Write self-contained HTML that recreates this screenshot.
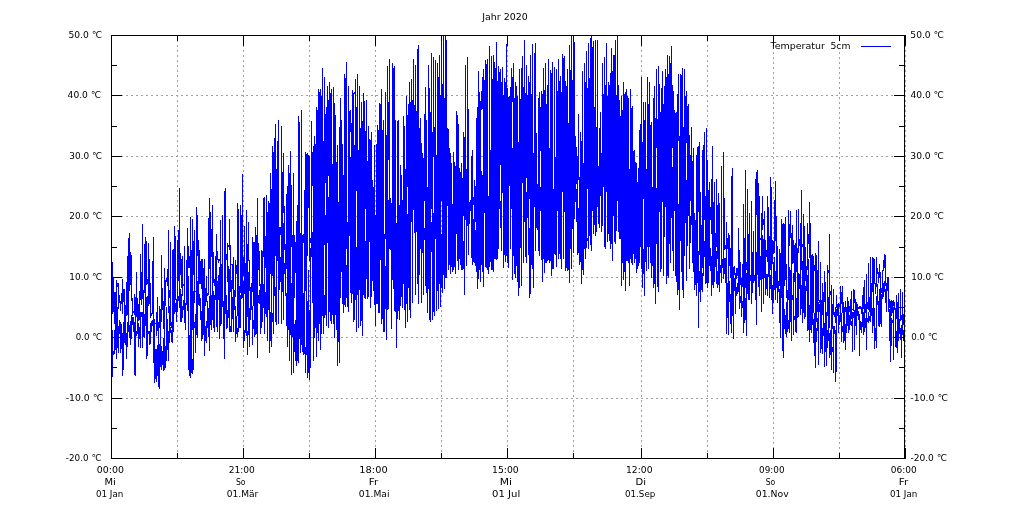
<!DOCTYPE html>
<html><head><meta charset="utf-8"><style>
html,body{margin:0;padding:0;background:#fff;width:1015px;height:507px;overflow:hidden}
svg{display:block}
text{font-family:"DejaVu Sans","Liberation Sans",sans-serif;font-size:9.3px;fill:#000}
</style></head><body>
<svg width="1015" height="507" viewBox="0 0 1015 507" shape-rendering="crispEdges">
<rect width="1015" height="507" fill="#fff"/>
<path d="M111 398.5H904M111 337.5H904M111 277.5H904M111 216.5H904M111 156.5H904M111 95.5H904M177.5 457V35M243.5 457V35M309.5 457V35M375.5 457V35M441.5 457V35M507.5 457V35M573.5 457V35M641.5 457V35M707.5 457V35M773.5 459V35M839.5 459V35M905.5 457V35" stroke="#a0a0a0" stroke-width="1" stroke-dasharray="2 3" fill="none"/>
<path d="M111.5 304V325M111.5 346V364M112.5 262V314M112.5 330V377M113.5 278V312M113.5 351V355M114.5 292V324M114.5 330V354M115.5 292V350M116.5 280V359M117.5 283V287M117.5 307V348M118.5 283V309M118.5 326V353M119.5 295V303M119.5 320V334M120.5 301V311M120.5 322V353M121.5 293V304M121.5 324V349M122.5 279V314M122.5 333V376M123.5 289V302M123.5 322V370M124.5 289V343M125.5 305V345M126.5 282V316M126.5 333V359M127.5 256V315M127.5 322V347M128.5 238V332M129.5 233V291M129.5 325V338M130.5 252V285M130.5 321V345M131.5 255V301M131.5 315V339M132.5 298V316M132.5 317V325M133.5 311V313M133.5 317V332M134.5 294V315M134.5 322V375M135.5 297V376M136.5 272V317M136.5 331V336M137.5 298V334M138.5 304V321M138.5 323V347M139.5 291V320M139.5 327V339M140.5 254V300M140.5 312V348M141.5 272V305M141.5 312V317M142.5 224V299M142.5 312V348M143.5 290V337M144.5 244V293M144.5 314V338M145.5 237V326M146.5 241V285M146.5 297V359M147.5 279V284M147.5 296V356M148.5 243V306M148.5 331V334M149.5 259V304M149.5 331V345M150.5 283V318M150.5 323V344M151.5 313V316M151.5 321V332M152.5 261V314M152.5 320V326M153.5 237V363M154.5 319V383M155.5 323V324M155.5 349V379M156.5 312V336M156.5 349V382M157.5 297V331M157.5 345V376M158.5 322V387M159.5 306V328M159.5 344V389M160.5 309V367M161.5 255V322M161.5 346V370M162.5 288V310M162.5 351V365M163.5 301V329M163.5 338V371M164.5 268V370M165.5 280V306M165.5 346V368M166.5 278V282M166.5 307V361M167.5 269V286M167.5 319V350M168.5 230V313M168.5 331V361M169.5 290V298M169.5 306V343M170.5 242V326M170.5 327V333M171.5 322V328M171.5 330V342M172.5 250V343M173.5 249V332M174.5 226V314M175.5 236V300M175.5 303V312M176.5 299V322M177.5 240V312M178.5 230V281M178.5 296V301M179.5 188V308M180.5 253V275M180.5 289V322M181.5 259V288M181.5 294V322M182.5 256V296M182.5 306V318M183.5 284V286M183.5 300V310M184.5 246V323M185.5 303V330M186.5 260V305M187.5 228V311M188.5 246V268M188.5 276V370M189.5 256V268M189.5 335V376M190.5 217V378M191.5 250V373M192.5 219V330M192.5 359V374M193.5 241V275M193.5 291V370M194.5 230V303M194.5 322V328M195.5 291V292M195.5 314V353M196.5 207V335M197.5 215V256M197.5 281V338M198.5 240V305M199.5 250V284M199.5 294V306M200.5 261V284M200.5 298V320M201.5 259V289M201.5 311V341M202.5 259V339M203.5 268V335M204.5 259V356M205.5 288V306M205.5 326V341M206.5 276V302M206.5 321V343M207.5 293V296M207.5 301V328M208.5 218V295M208.5 308V337M209.5 198V269M209.5 296V351M210.5 212V325M211.5 229V257M211.5 295V330M212.5 205V320M213.5 252V283M213.5 291V328M214.5 279V286M214.5 295V332M215.5 256V300M216.5 234V327M217.5 251V260M217.5 281V332M218.5 259V263M218.5 275V300M219.5 259V261M219.5 267V339M220.5 220V326M221.5 264V324M222.5 215V307M223.5 301V339M224.5 191V359M225.5 188V314M226.5 254V260M226.5 295V329M227.5 243V282M227.5 310V328M228.5 245V247M228.5 266V318M229.5 219V250M229.5 269V332M230.5 245V292M230.5 326V332M231.5 264V265M231.5 280V332M232.5 264V289M232.5 297V319M233.5 257V332M234.5 290V310M235.5 260V297M235.5 306V342M236.5 265V274M236.5 316V334M237.5 203V316M237.5 328V337M238.5 209V332M239.5 286V328M240.5 205V293M240.5 295V328M241.5 215V299M242.5 174V298M243.5 257V276M243.5 281V348M244.5 226V294M244.5 330V341M245.5 263V333M246.5 210V336M247.5 244V317M247.5 331V355M248.5 222V261M248.5 272V335M249.5 260V291M249.5 308V347M250.5 287V320M251.5 283V310M252.5 237V292M252.5 306V345M253.5 242V306M253.5 320V329M254.5 242V337M255.5 227V335M256.5 235V334M257.5 198V358M258.5 243V270M258.5 295V303M259.5 251V286M259.5 290V304M260.5 284V334M261.5 250V328M262.5 251V322M263.5 198V257M263.5 284V308M264.5 197V334M265.5 236V268M265.5 292V314M266.5 195V317M267.5 212V341M268.5 201V310M269.5 203V353M270.5 173V274M270.5 312V341M271.5 189V347M272.5 146V276M272.5 313V322M273.5 152V334M274.5 138V296M275.5 124V256M275.5 287V322M276.5 169V325M277.5 141V261M278.5 120V324M279.5 227V290M280.5 227V235M280.5 257V282M281.5 126V324M282.5 172V292M283.5 153V213M283.5 223V320M284.5 206V250M284.5 263V274M285.5 244V296M286.5 194V269M286.5 293V326M287.5 186V347M288.5 165V330M289.5 173V361M290.5 151V335M291.5 185V247M291.5 283V375M292.5 235V337M293.5 173V373M294.5 235V298M294.5 324V352M295.5 242V273M295.5 320V361M296.5 221V366M297.5 205V361M298.5 116V363M299.5 122V339M300.5 233V353M301.5 110V345M302.5 235V352M303.5 234V243M303.5 293V355M304.5 190V354M305.5 152V291M305.5 347V373M306.5 154V355M307.5 153V256M307.5 301V378M308.5 155V208M308.5 270V373M309.5 156V261M309.5 310V380M310.5 238V243M310.5 248V368M311.5 121V257M312.5 152V186M312.5 232V303M313.5 146V361M314.5 136V338M315.5 144V328M316.5 107V357M317.5 110V333M318.5 89V341M319.5 92V324M320.5 89V350M321.5 96V334M322.5 68V316M323.5 141V334M324.5 77V245M324.5 295V318M325.5 114V183M325.5 215V315M326.5 107V326M327.5 86V243M328.5 100V176M328.5 197V328M329.5 82V312M330.5 93V321M331.5 89V324M332.5 164V315M333.5 87V324M334.5 103V338M335.5 115V315M336.5 162V330M337.5 145V366M338.5 202V342M339.5 127V363M340.5 98V298M341.5 120V272M342.5 144V304M343.5 175V313M344.5 74V305M345.5 78V307M346.5 62V249M346.5 265V298M347.5 222V307M348.5 86V312M349.5 111V236M350.5 110V132M350.5 157V293M351.5 123V303M352.5 90V294M353.5 93V322M354.5 92V94M354.5 145V320M355.5 79V300M356.5 107V191M356.5 247V332M357.5 74V295M358.5 150V328M359.5 86V290M360.5 128V326M361.5 102V321M362.5 121V336M363.5 93V295M364.5 101V298M365.5 131V209M365.5 241V299M366.5 100V279M367.5 161V299M368.5 126V297M369.5 139V242M370.5 140V308M371.5 132V297M372.5 180V281M373.5 187V291M374.5 145V305M375.5 215V326M376.5 144V304M377.5 125V304M378.5 130V313M379.5 103V313M380.5 104V260M381.5 89V324M382.5 130V319M383.5 120V332M384.5 234V332M385.5 92V239M385.5 266V309M386.5 135V340M387.5 66V310M388.5 102V160M388.5 200V309M389.5 59V249M390.5 198V250M391.5 203V329M392.5 63V280M393.5 68V289M394.5 66V311M395.5 120V312M396.5 223V348M397.5 121V319M398.5 120V311M399.5 205V320M400.5 165V306M401.5 175V297M402.5 200V308M403.5 116V284M404.5 126V310M405.5 169V328M406.5 96V304M407.5 115V187M407.5 214V322M408.5 104V288M409.5 82V310M410.5 102V318M411.5 79V222M412.5 100V303M413.5 59V210M414.5 105V233M415.5 65V295M416.5 111V232M417.5 49V284M418.5 45V304M419.5 128V275M420.5 118V249M421.5 143V303M422.5 153V253M423.5 158V295M424.5 114V201M424.5 228V240M425.5 87V286M426.5 120V293M427.5 187V313M428.5 65V289M429.5 88V320M430.5 112V322M431.5 53V209M431.5 222V252M432.5 132V320M433.5 57V157M433.5 213V312M434.5 127V316M435.5 60V239M436.5 155V311M437.5 63V291M438.5 77V309M439.5 55V284M440.5 95V307M441.5 37V201M441.5 234V288M442.5 84V293M443.5 35V275M444.5 98V289M445.5 35V278M446.5 40V278M447.5 128V206M448.5 129V270M449.5 148V265M450.5 153V274M451.5 163V267M452.5 204V272M453.5 152V270M454.5 162V267M455.5 166V274M456.5 111V234M457.5 115V261M458.5 124V270M459.5 168V259M460.5 172V265M461.5 163V270M462.5 178V270M463.5 132V216M463.5 241V269M464.5 137V295M465.5 65V220M466.5 169V266M467.5 57V226M468.5 109V255M469.5 202V224M470.5 200V211M471.5 156V258M472.5 150V265M473.5 197V205M473.5 219V262M474.5 180V263M475.5 186V222M475.5 230V266M476.5 118V272M477.5 107V289M478.5 71V279M479.5 92V270M480.5 101V282M481.5 91V110M481.5 171V265M482.5 77V109M482.5 175V272M483.5 69V287M484.5 80V213M485.5 60V267M486.5 64V268M487.5 59V270M488.5 196V274M489.5 46V267M490.5 150V262M491.5 56V270M492.5 79V270M493.5 55V272M494.5 62V259M495.5 68V259M496.5 42V260M497.5 81V259M498.5 66V249M499.5 72V209M500.5 69V165M500.5 201V228M501.5 82V251M502.5 67V193M503.5 95V268M504.5 78V255M505.5 82V262M506.5 44V256M507.5 88V263M508.5 97V268M509.5 96V186M510.5 87V249M511.5 68V209M512.5 77V102M512.5 148V280M513.5 63V256M514.5 98V274M515.5 82V278M516.5 86V266M517.5 96V282M518.5 142V296M519.5 69V288M520.5 99V248M521.5 68V286M522.5 56V183M523.5 87V263M524.5 40V222M525.5 93V257M526.5 65V178M526.5 192V263M527.5 95V218M528.5 76V255M529.5 82V199M529.5 228V298M530.5 55V294M531.5 94V265M532.5 44V269M533.5 153V288M534.5 53V207M535.5 43V251M536.5 133V228M537.5 184V230M538.5 98V251M539.5 92V256M540.5 107V151M540.5 187V211M541.5 91V260M542.5 94V282M543.5 68V259M544.5 90V273M545.5 63V263M546.5 104V263M547.5 85V261M548.5 59V260M549.5 148V263M550.5 70V261M551.5 73V276M552.5 62V269M553.5 189V269M554.5 67V254M555.5 157V255M556.5 69V267M557.5 91V211M558.5 59V259M559.5 81V254M560.5 76V259M561.5 92V269M562.5 54V192M563.5 58V259M564.5 56V212M565.5 81V271M566.5 86V268M567.5 69V271M568.5 123V270M569.5 45V283M570.5 70V249M571.5 35V269M572.5 80V229M573.5 35V253M574.5 42V219M575.5 136V202M576.5 147V184M576.5 189V222M577.5 156V255M578.5 114V180M578.5 208V253M579.5 177V265M580.5 132V262M581.5 141V284M582.5 71V270M583.5 163V275M584.5 63V249M585.5 82V259M586.5 51V248M587.5 88V189M587.5 238V241M588.5 43V249M589.5 78V236M590.5 38V245M591.5 35V251M592.5 47V211M593.5 41V234M594.5 107V225M595.5 40V236M596.5 127V232M597.5 40V207M598.5 166V224M599.5 128V228M600.5 112V196M601.5 153V232M602.5 63V226M603.5 94V187M604.5 57V247M605.5 85V249M606.5 43V192M607.5 96V242M608.5 82V234M609.5 85V241M610.5 73V249M611.5 48V244M612.5 71V261M613.5 55V216M614.5 55V242M615.5 40V244M616.5 95V231M617.5 36V201M618.5 85V232M619.5 100V239M620.5 116V239M621.5 96V286M622.5 110V263M623.5 82V280M624.5 94V272M625.5 92V291M626.5 89V261M627.5 96V261M628.5 98V263M629.5 169V286M630.5 89V259M631.5 108V263M632.5 106V265M633.5 151V254M634.5 150V263M635.5 162V259M636.5 163V273M637.5 182V269M638.5 168V266M639.5 130V263M640.5 124V247M641.5 77V269M642.5 142V288M643.5 102V199M643.5 249V274M644.5 120V296M645.5 102V262M646.5 169V271M647.5 77V247M648.5 104V269M649.5 82V247M650.5 125V263M651.5 122V278M652.5 187V266M653.5 98V288M654.5 86V284M655.5 118V304M656.5 69V148M656.5 188V244M657.5 119V287M658.5 66V292M659.5 84V212M660.5 112V272M661.5 88V269M662.5 71V202M663.5 104V276M664.5 86V237M665.5 69V207M666.5 77V284M667.5 55V276M668.5 74V278M669.5 56V244M670.5 63V263M671.5 46V218M672.5 85V148M672.5 167V251M673.5 91V271M674.5 110V211M675.5 113V276M676.5 112V282M677.5 94V295M678.5 74V141M678.5 204V290M679.5 136V310M680.5 74V241M681.5 75V272M682.5 68V290M683.5 127V298M684.5 69V256M685.5 96V223M686.5 91V143M686.5 180V281M687.5 106V246M688.5 104V216M689.5 135V269M690.5 155V201M690.5 216V243M691.5 127V225M692.5 161V263M693.5 148V272M694.5 213V290M695.5 220V285M696.5 155V296M697.5 147V283M698.5 146V212M698.5 251V328M699.5 142V255M699.5 271V292M700.5 192V302M701.5 225V290M702.5 150V268M702.5 273V292M703.5 145V276M704.5 132V220M704.5 241V257M705.5 196V284M706.5 128V283M707.5 160V288M708.5 190V283M709.5 182V266M710.5 207V220M710.5 248V271M711.5 179V234M711.5 256V296M712.5 146V285M713.5 202V288M714.5 182V282M715.5 233V267M716.5 179V247M716.5 251V284M717.5 205V259M717.5 271V288M718.5 193V285M719.5 203V292M720.5 265V273M721.5 166V283M722.5 259V268M723.5 152V279M724.5 198V250M724.5 258V274M725.5 245V249M725.5 258V283M726.5 222V334M727.5 238V249M727.5 283V318M728.5 233V335M729.5 235V266M729.5 281V302M730.5 248V278M730.5 294V324M731.5 176V333M732.5 168V316M733.5 267V339M734.5 266V275M734.5 278V291M735.5 273V314M736.5 268V279M736.5 287V296M737.5 268V276M737.5 283V294M738.5 228V292M739.5 250V309M740.5 262V285M740.5 296V303M741.5 278V317M742.5 264V287M742.5 301V308M743.5 204V333M744.5 238V323M745.5 170V288M745.5 298V320M746.5 262V270M746.5 273V336M747.5 189V294M748.5 234V300M749.5 213V300M750.5 275V281M751.5 201V304M752.5 252V293M753.5 231V283M754.5 275V281M755.5 179V300M756.5 172V215M756.5 252V325M757.5 170V275M758.5 183V287M759.5 196V296M760.5 238V240M760.5 256V280M761.5 213V312M762.5 196V230M762.5 235V279M763.5 219V225M763.5 239V304M764.5 211V278M765.5 240V295M766.5 250V257M766.5 274V289M767.5 196V262M767.5 274V296M768.5 207V277M769.5 236V298M770.5 177V270M770.5 275V289M771.5 187V300M772.5 240V264M772.5 285V314M773.5 241V254M773.5 262V303M774.5 200V253M774.5 257V290M775.5 181V241M775.5 271V300M776.5 216V288M777.5 246V303M778.5 281V292M779.5 249V286M779.5 289V323M780.5 253V338M781.5 219V298M782.5 224V351M783.5 223V358M784.5 224V286M784.5 309V329M785.5 217V280M785.5 315V334M786.5 264V298M786.5 302V337M787.5 290V332M788.5 210V300M788.5 320V329M789.5 224V246M789.5 267V333M790.5 211V238M790.5 270V322M791.5 233V341M792.5 225V264M792.5 295V300M793.5 240V263M793.5 273V335M794.5 245V282M794.5 316V320M795.5 243V332M796.5 210V272M796.5 298V333M797.5 248V318M798.5 209V253M798.5 273V317M799.5 239V246M799.5 274V289M800.5 223V315M801.5 190V270M801.5 285V309M802.5 244V247M802.5 261V323M803.5 214V313M804.5 226V319M805.5 247V281M805.5 286V317M806.5 266V291M807.5 223V270M807.5 275V331M808.5 234V244M808.5 259V330M809.5 202V258M809.5 305V342M810.5 223V330M811.5 255V333M812.5 254V325M813.5 256V313M813.5 319V343M814.5 265V271M814.5 313V356M815.5 253V368M816.5 255V322M816.5 328V342M817.5 270V312M817.5 318V331M818.5 241V301M818.5 302V365M819.5 300V303M819.5 304V312M820.5 262V353M821.5 300V349M822.5 283V315M822.5 328V354M823.5 292V336M824.5 271V302M824.5 323V367M825.5 282V352M826.5 312V366M827.5 265V316M827.5 330V348M828.5 270V273M828.5 297V341M829.5 234V328M829.5 333V358M830.5 291V295M830.5 330V355M831.5 285V370M832.5 304V329M832.5 347V352M833.5 289V315M833.5 326V373M834.5 312V317M834.5 326V334M835.5 307V323M835.5 330V382M836.5 295V308M836.5 309V372M837.5 304V316M838.5 303V333M839.5 304V307M839.5 315V325M840.5 286V322M841.5 292V304M841.5 313V342M842.5 286V313M842.5 326V332M843.5 302V343M844.5 307V341M845.5 301V312M845.5 324V350M846.5 307V333M847.5 297V326M848.5 301V333M849.5 306V312M849.5 315V330M850.5 299V325M851.5 291V319M851.5 321V326M852.5 309V310M852.5 312V352M853.5 289V311M853.5 312V318M854.5 290V303M854.5 310V350M855.5 299V326M856.5 302V335M857.5 304V316M858.5 307V309M858.5 311V320M859.5 306V309M859.5 314V356M860.5 306V309M860.5 321V330M861.5 307V314M861.5 322V333M862.5 295V327M863.5 287V309M863.5 312V335M864.5 280V332M865.5 304V313M865.5 318V328M866.5 274V350M867.5 302V309M867.5 318V322M868.5 263V310M868.5 312V323M869.5 297V312M869.5 316V321M870.5 257V322M871.5 283V316M872.5 257V292M872.5 308V333M873.5 258V326M874.5 259V284M874.5 308V349M875.5 283V294M875.5 328V341M876.5 257V287M876.5 296V348M877.5 268V274M877.5 284V305M878.5 272V283M878.5 301V326M879.5 264V278M879.5 289V327M880.5 272V324M881.5 288V293M881.5 294V327M882.5 270V299M883.5 260V271M883.5 283V297M884.5 254V268M884.5 281V292M885.5 255V286M885.5 289V303M886.5 283V312M887.5 277V291M888.5 277V312M889.5 299V308M889.5 309V341M890.5 301V362M891.5 300V316M891.5 318V346M892.5 301V313M892.5 320V323M893.5 300V306M893.5 307V360M894.5 302V310M895.5 308V347M896.5 295V319M896.5 331V348M897.5 302V353M898.5 293V341M899.5 307V308M899.5 319V334M900.5 289V321M900.5 328V340M901.5 315V320M901.5 325V358M902.5 292V335M903.5 314V325M903.5 330V341M904.5 313V341" stroke="#00f" stroke-width="1" fill="none"/>
<rect x="764" y="36" width="140" height="14" fill="#fff"/>
<path d="M111 458.5h11M905 458.5h-11M111 428.5h6M905 428.5h-6M111 398.5h11M905 398.5h-11M111 367.5h6M905 367.5h-6M111 337.5h11M905 337.5h-11M111 307.5h6M905 307.5h-6M111 277.5h11M905 277.5h-11M111 247.5h6M905 247.5h-6M111 216.5h11M905 216.5h-11M111 186.5h6M905 186.5h-6M111 156.5h11M905 156.5h-11M111 126.5h6M905 126.5h-6M111 95.5h11M905 95.5h-11M111 65.5h6M905 65.5h-6M111 35.5h11M905 35.5h-11M111.5 459v-11M111.5 35v11M177.5 459v-6M177.5 35v6M243.5 459v-11M243.5 35v11M309.5 459v-6M309.5 35v6M375.5 459v-11M375.5 35v11M441.5 459v-6M441.5 35v6M507.5 459v-11M507.5 35v11M573.5 459v-6M573.5 35v6M641.5 459v-11M641.5 35v11M707.5 459v-6M707.5 35v6M773.5 459v-11M773.5 35v11M839.5 459v-6M839.5 35v6M905.5 459v-11M905.5 35v11" stroke="#000" stroke-width="1" fill="none"/>
<path d="M111.5 35V459M111 35.5H905M904.5 35V459M111 458.5H905" stroke="#000" stroke-width="1" fill="none"/>
<path d="M861 46.5H891" stroke="#00f" stroke-width="1"/>
<text x="65.7" y="461.0" textLength="35.63" lengthAdjust="spacingAndGlyphs">-20.0 ℃</text><text x="910.38" y="461.0" textLength="36.57" lengthAdjust="spacingAndGlyphs">-20.0 ℃</text><text x="65.68" y="401.0" textLength="37.49" lengthAdjust="spacingAndGlyphs">-10.0 ℃</text><text x="910.36" y="401.0" textLength="37.52" lengthAdjust="spacingAndGlyphs">-10.0 ℃</text><text x="75.8" y="340.0" textLength="26.2" lengthAdjust="spacingAndGlyphs">0.0 ℃</text><text x="911.3" y="340.0" textLength="26.2" lengthAdjust="spacingAndGlyphs">0.0 ℃</text><text x="69.34" y="280.0" textLength="32.64" lengthAdjust="spacingAndGlyphs">10.0 ℃</text><text x="911.24" y="280.0" textLength="32.64" lengthAdjust="spacingAndGlyphs">10.0 ℃</text><text x="69.34" y="219.0" textLength="32.64" lengthAdjust="spacingAndGlyphs">20.0 ℃</text><text x="910.32" y="219.0" textLength="33.58" lengthAdjust="spacingAndGlyphs">20.0 ℃</text><text x="69.34" y="159.0" textLength="32.64" lengthAdjust="spacingAndGlyphs">30.0 ℃</text><text x="910.32" y="159.0" textLength="33.58" lengthAdjust="spacingAndGlyphs">30.0 ℃</text><text x="67.58" y="98.0" textLength="33.51" lengthAdjust="spacingAndGlyphs">40.0 ℃</text><text x="910.38" y="98.0" textLength="33.51" lengthAdjust="spacingAndGlyphs">40.0 ℃</text><text x="68.42" y="38.0" textLength="33.58" lengthAdjust="spacingAndGlyphs">50.0 ℃</text><text x="910.32" y="38.0" textLength="33.58" lengthAdjust="spacingAndGlyphs">50.0 ℃</text><text x="96.8" y="473.0" textLength="27.21" lengthAdjust="spacingAndGlyphs">00:00</text><text x="104.53" y="485.0" textLength="11.32" lengthAdjust="spacingAndGlyphs">Mi</text><text x="96.0" y="497.0" textLength="27.32" lengthAdjust="spacingAndGlyphs">01 Jan</text><text x="228.7" y="473.0" textLength="26.18" lengthAdjust="spacingAndGlyphs">21:00</text><text x="235.9" y="485.0" textLength="9.59" lengthAdjust="spacingAndGlyphs">So</text><text x="226.8" y="497.0" textLength="31.52" lengthAdjust="spacingAndGlyphs">01.Mär</text><text x="359.34" y="473.0" textLength="28.3" lengthAdjust="spacingAndGlyphs">18:00</text><text x="368.77" y="485.0" textLength="9.47" lengthAdjust="spacingAndGlyphs">Fr</text><text x="358.8" y="497.0" textLength="30.68" lengthAdjust="spacingAndGlyphs">01.Mai</text><text x="492.0" y="473.0" textLength="26.69" lengthAdjust="spacingAndGlyphs">15:00</text><text x="499.72" y="485.0" textLength="12.32" lengthAdjust="spacingAndGlyphs">Mi</text><text x="492.03" y="497.0" textLength="28.26" lengthAdjust="spacingAndGlyphs">01 Jul</text><text x="626.01" y="473.0" textLength="26.58" lengthAdjust="spacingAndGlyphs">12:00</text><text x="635.52" y="485.0" textLength="10.48" lengthAdjust="spacingAndGlyphs">Di</text><text x="625.0" y="497.0" textLength="30.29" lengthAdjust="spacingAndGlyphs">01.Sep</text><text x="759.0" y="473.0" textLength="25.56" lengthAdjust="spacingAndGlyphs">09:00</text><text x="765.7" y="485.0" textLength="9.59" lengthAdjust="spacingAndGlyphs">So</text><text x="755.79" y="497.0" textLength="32.87" lengthAdjust="spacingAndGlyphs">01.Nov</text><text x="890.8" y="473.0" textLength="25.97" lengthAdjust="spacingAndGlyphs">06:00</text><text x="898.77" y="485.0" textLength="9.47" lengthAdjust="spacingAndGlyphs">Fr</text><text x="890.0" y="497.0" textLength="27.32" lengthAdjust="spacingAndGlyphs">01 Jan</text><text x="482.2" y="20.0" textLength="45.49" lengthAdjust="spacingAndGlyphs">Jahr 2020</text><text x="770.6" y="49.0" textLength="54.28" lengthAdjust="spacingAndGlyphs">Temperatur</text><text x="830.48" y="49.0" textLength="19.94" lengthAdjust="spacingAndGlyphs">5cm</text>
</svg></body></html>
